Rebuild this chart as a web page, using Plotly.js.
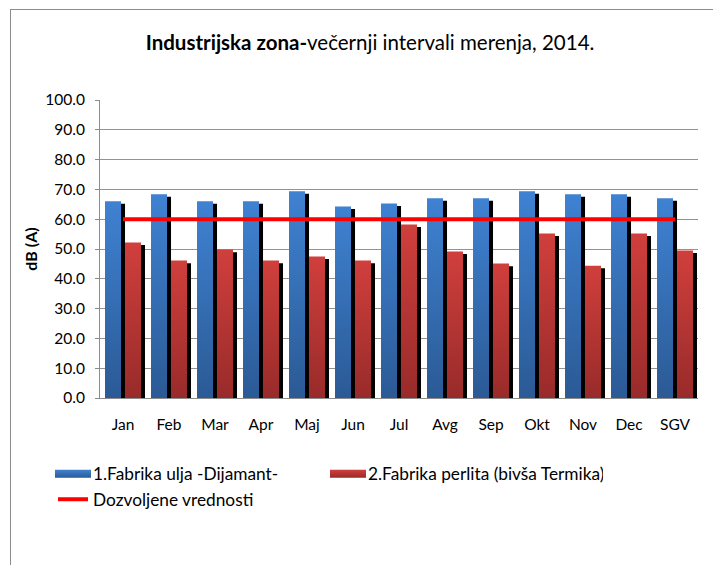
<!DOCTYPE html>
<html>
<head>
<meta charset="utf-8">
<script src="https://cdn.plot.ly/plotly-3.0.1.min.js"></script>
<style>
  html, body { margin: 0; padding: 0; background: #fff; }
  #wrap { position: relative; width: 713px; height: 565px; }
  #chart { position: absolute; left: 0; top: 0; width: 713px; height: 565px; }
  #frame { position: absolute; left: 10px; top: 9px; width: 703px; height: 556px;
           border-left: 1px solid #8c8c8c; border-top: 1px solid #8c8c8c; pointer-events: none; }
</style>
</head>
<body>
<div id="wrap">
  <div id="chart"></div>
  <div id="frame"></div>
</div>
<script>
const categories = ['Jan','Feb','Mar','Apr','Maj','Jun','Jul','Avg','Sep','Okt','Nov','Dec','SGV'];
const fabrikaUlja = [66.0, 68.4, 66.0, 66.0, 69.4, 64.3, 65.3, 67.0, 67.0, 69.4, 68.4, 68.4, 67.0];
const fabrikaPerlita = [52.2, 46.1, 49.8, 46.1, 47.5, 46.1, 58.2, 49.2, 45.1, 55.2, 44.4, 55.2, 49.5];
const dozvoljene = [60, 60, 60, 60, 60, 60, 60, 60, 60, 60, 60, 60, 60];
const yTicks = [0, 10, 20, 30, 40, 50, 60, 70, 80, 90, 100];

const seriesNames = ['1.Fabrika ulja -Dijamant-', '2.Fabrika perlita (bivša Termika)', 'Dozvoljene vrednosti'];

const FONT = 'Lato, "Liberation Sans", sans-serif';
const BW = 0.348;          // bar width (category units)
const SH = 0.087;          // shadow x shift
const SHY = 0.85;          // shadow drop (value units)

const shadow = arr => arr.map(v => v - SHY);

const traces = [
  { type: 'bar', x: categories, y: shadow(fabrikaUlja), width: BW, offset: -0.391 + SH,
    marker: { color: '#000', line: { width: 0 } }, showlegend: false, hoverinfo: 'skip' },
  { type: 'bar', name: seriesNames[0], x: categories, y: fabrikaUlja, width: BW, offset: -0.391,
    marker: { color: '#3a74c0', line: { width: 0 } } },
  { type: 'bar', x: categories, y: shadow(fabrikaPerlita), width: BW, offset: 0.043 + SH,
    marker: { color: '#000', line: { width: 0 } }, showlegend: false, hoverinfo: 'skip' },
  { type: 'bar', name: seriesNames[1], x: categories, y: fabrikaPerlita, width: BW, offset: 0.043,
    marker: { color: '#b93636', line: { width: 0 } } },
  { type: 'scatter', mode: 'lines', name: seriesNames[2], x: categories, y: dozvoljene,
    line: { color: '#ff0000', width: 4 } }
];

const layout = {
  width: 713, height: 565,
  margin: { l: 100, r: 15, t: 100, b: 167, pad: 0 },
  paper_bgcolor: '#fff', plot_bgcolor: '#fff',
  font: { family: FONT, size: 15.5, color: '#000' },
  barmode: 'overlay',
  showlegend: true,
  title: {
    text: '<b>Industrijska zona-</b>večernji intervali merenja, 2014.',
    font: { family: FONT, size: 20.5, color: '#000' },
    xref: 'container', x: 0.519, xanchor: 'center',
    yref: 'container', y: 1 - 43 / 565, yanchor: 'middle'
  },
  xaxis: {
    type: 'category', range: [-0.5, 12.5],
    showgrid: false, zeroline: false,
    showline: true, linecolor: '#8c8c8c', linewidth: 1,
    ticks: '', ticklabelstandoff: 12,
    tickfont: { family: FONT, size: 15.5, color: '#000' }
  },
  yaxis: {
    range: [0, 100], tickvals: yTicks, ticktext: yTicks.map(v => v.toFixed(1)),
    showgrid: true, gridcolor: '#939393', gridwidth: 1,
    zeroline: false, showline: true, linecolor: '#8c8c8c', linewidth: 1,
    ticks: 'outside', ticklen: 4, tickcolor: '#8c8c8c', ticklabelstandoff: 7,
    tickfont: { family: FONT, size: 15.5, color: '#000' },
    title: { text: '<b>dB (A)</b>', font: { family: FONT, size: 16, color: '#000' }, standoff: 3 }
  },
  legend: {
    orientation: 'h', xref: 'container', yref: 'container',
    x: 53 / 713, xanchor: 'left', y: 1 - 456 / 565, yanchor: 'top',
    entrywidth: 230, entrywidthmode: 'pixels',
    font: { family: FONT, size: 17.3, color: '#000' },
    bgcolor: 'rgba(0,0,0,0)', traceorder: 'normal'
  }
};

function decorate(gd) {
  const svg = gd.querySelector('svg.main-svg');
  const ns = 'http://www.w3.org/2000/svg';
  if (!document.getElementById('gBlue')) {
    let defs = svg.querySelector('defs');
    if (!defs) { defs = document.createElementNS(ns, 'defs'); svg.insertBefore(defs, svg.firstChild); }
    const grad = (id, top, bottom) => {
      const g = document.createElementNS(ns, 'linearGradient');
      g.setAttribute('id', id);
      g.setAttribute('x1', '0'); g.setAttribute('y1', '0');
      g.setAttribute('x2', '0'); g.setAttribute('y2', '1');
      [[0, top], [1, bottom]].forEach(([o, c]) => {
        const s = document.createElementNS(ns, 'stop');
        s.setAttribute('offset', o); s.setAttribute('stop-color', c);
        g.appendChild(s);
      });
      defs.appendChild(g);
    };
    grad('gBlue', '#3f82d2', '#2b5a95');
    grad('gRed', '#d03f3c', '#982b2a');
  }
  const barTraces = gd.querySelectorAll('.barlayer .trace');
  if (barTraces[1]) barTraces[1].querySelectorAll('path').forEach(p => p.style.fill = 'url(#gBlue)');
  if (barTraces[3]) barTraces[3].querySelectorAll('path').forEach(p => p.style.fill = 'url(#gRed)');
  const legTraces = gd.querySelectorAll('g.legend g.traces');
  legTraces.forEach((t, i) => {
    if (i > 1) return;
    t.querySelectorAll('.legendpoints path').forEach(p => {
      if (p.classList.contains('js-line')) return;
      p.setAttribute('d', 'M18,4H-18V-4H18Z');
      p.style.fill = i === 0 ? 'url(#gBlue)' : 'url(#gRed)';
      p.style.stroke = 'none';
    });
  });
}

Plotly.newPlot('chart', traces, layout, { staticPlot: true, displayModeBar: false }).then(gd => {
  decorate(gd);
  setTimeout(() => decorate(gd), 0);
});
</script>
</body>
</html>
